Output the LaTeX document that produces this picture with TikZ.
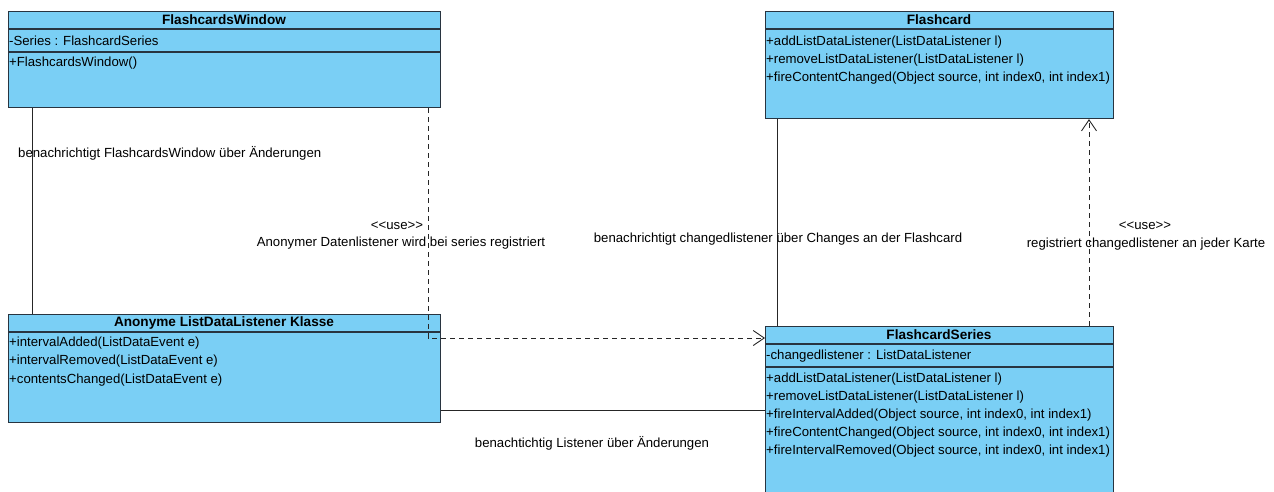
\documentclass[tikz,border=0pt]{standalone}
\usepackage{fontspec}
\setmainfont{Liberation Sans}
\usetikzlibrary{arrows.meta}
\definecolor{boxfill}{RGB}{122,207,245}
\definecolor{boxline}{RGB}{40,52,64}
\begin{document}
\begin{tikzpicture}[x=1pt,y=-1pt,
  cls/.style={draw=boxline,fill=boxfill,line width=1.1pt,rectangle,inner sep=0pt,anchor=north west},
  sep/.style={draw=boxline,line width=1.1pt},
  hdr/.style={font=\fontsize{13.6}{15}\selectfont\bfseries,inner sep=0pt,anchor=center},
  mem/.style={font=\fontsize{13.2}{15}\selectfont,inner sep=0pt,anchor=west},
  lbl/.style={font=\fontsize{13.2}{15}\selectfont,inner sep=0pt},
  conn/.style={draw=black!85,line width=0.9pt},
  dep/.style={conn,dash pattern=on 5pt off 4pt,-{Straight Barb[length=11pt,width=15pt,line width=0.9pt]}}
]
\useasboundingbox (0,0) rectangle (1274,491);
% FlashcardsWindow
\node[cls,minimum width=432pt,minimum height=96pt] (fw) at (8,11) {};
\draw[sep] (8,29) -- (440,29);
\draw[sep] (8,52) -- (440,52);
\node[hdr] (fwh) at (224,20) {FlashcardsWindow};
\node[mem] (fwa) at (9,41) {-Series : FlashcardSeries};
\node[mem] (fwm) at (9,63) {+FlashcardsWindow()};
% Flashcard
\node[cls,minimum width=348pt,minimum height=107pt] (fc) at (765,11) {};
\draw[sep] (765,29) -- (1113,29);
\node[hdr] (fch) at (939,20) {Flashcard};
\node[mem] (fcm1) at (766,42) {+addListDataListener(ListDataListener l)};
\node[mem] (fcm2) at (766,60) {+removeListDataListener(ListDataListener l)};
\node[mem] (fcm3) at (766,78) {+fireContentChanged(Object source, int index0, int index1)};
% Anonyme ListDataListener Klasse
\node[cls,minimum width=432pt,minimum height=108pt] (an) at (8,314) {};
\draw[sep] (8,332) -- (440,332);
\node[hdr] (anh) at (224,323) {Anonyme ListDataListener Klasse};
\node[mem] (anm1) at (9,343) {+intervalAdded(ListDataEvent e)};
\node[mem] (anm2) at (9,361) {+intervalRemoved(ListDataEvent e)};
\node[mem] (anm3) at (9,380) {+contentsChanged(ListDataEvent e)};
% FlashcardSeries
\node[cls,minimum width=348pt,minimum height=175pt] (fs) at (765,326) {};
\draw[sep] (765,344) -- (1113,344);
\draw[sep] (765,367) -- (1113,367);
\node[hdr] (fsh) at (939,335) {FlashcardSeries};
\node[mem] (fsa) at (766,356) {-changedlistener : ListDataListener};
\node[mem] (fsm1) at (766,379) {+addListDataListener(ListDataListener l)};
\node[mem] (fsm2) at (766,397) {+removeListDataListener(ListDataListener l)};
\node[mem] (fsm3) at (766,415) {+fireIntervalAdded(Object source, int index0, int index1)};
\node[mem] (fsm4) at (766,433) {+fireContentChanged(Object source, int index0, int index1)};
\node[mem] (fsm5) at (766,451) {+fireIntervalRemoved(Object source, int index0, int index1)};
% helper coordinates
\coordinate (x1) at (32,0);
\coordinate (x2) at (428,0);
\coordinate (y2) at (0,338);
\coordinate (x3) at (777,0);
\coordinate (x4) at (1089,0);
\coordinate (y5) at (0,410);
% connectors
\draw[conn] (fw.south -| x1) -- (an.north -| x1);
\draw[dep] (fw.south -| x2) |- (fs.west |- y2);
\draw[conn] (fc.south -| x3) -- (fs.north -| x3);
\draw[dep] (fs.north -| x4) -- (fc.south -| x4);
\draw[conn] (an.east |- y5) -- (fs.west |- y5);
% labels
\node[lbl,anchor=west] (l1) at (18,153) {benachrichtigt FlashcardsWindow über Änderungen};
\node[lbl] (l2a) at (397,226) {<{}<use>{}>};
\node[lbl] (l2b) at (401,243) {Anonymer Datenlistener wird bei series registriert};
\node[lbl] (l3) at (778,239) {benachrichtigt changedlistener über Changes an der Flashcard};
\node[lbl] (l4a) at (1145,226) {<{}<use>{}>};
\node[lbl] (l4b) at (1146,244) {registriert changedlistener an jeder Karte};
\node[lbl] (l5) at (592,443) {benachtichtig Listener über Änderungen};
\end{tikzpicture}
\end{document}
